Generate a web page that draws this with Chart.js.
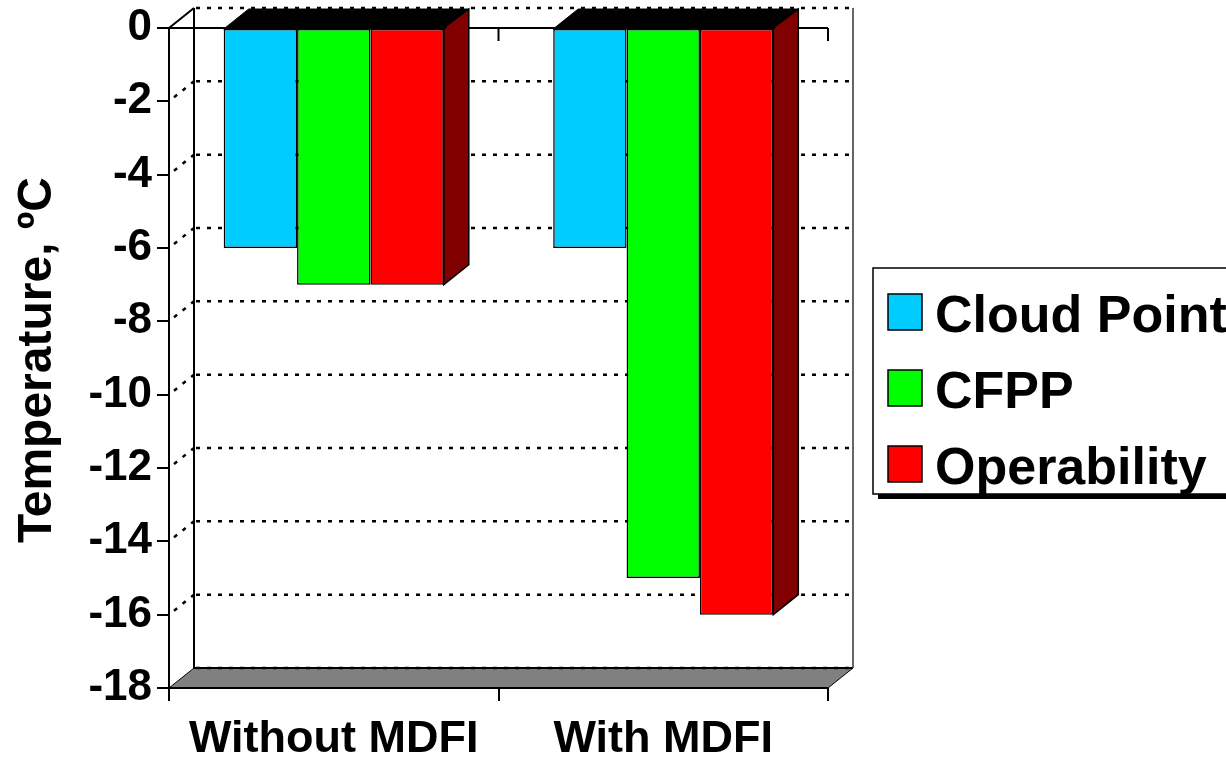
<!DOCTYPE html>
<html>
<head>
<meta charset="utf-8">
<script src="https://cdn.jsdelivr.net/npm/chart.js@4/dist/chart.umd.min.js"></script>
<style>
  html, body { margin: 0; padding: 0; background: #fff; overflow: hidden; }
  #wrap { width: 1226px; height: 763px; position: relative; }
  canvas { display: block; }
</style>
</head>
<body>
<div id="wrap"><canvas id="chart" width="1226" height="763"></canvas></div>
<script>
// ---- data ----
const categories = ['Without MDFI', 'With MDFI'];
const seriesNames = ['Cloud Point', 'CFPP', 'Operability'];
const cloudPoint = [-6, -6];
const cfpp = [-7, -15];
const operability = [-7, -16];
const yTickLabels = ['0', '-2', '-4', '-6', '-8', '-10', '-12', '-14', '-16', '-18'];
const yMax = 0, yMin = -18, yStep = 2;
const yTitle = 'Temperature, \u00BAC';

// ---- style ----
const FONT = "'Liberation Sans', Arial, Helvetica, sans-serif";
const FRONT_COLORS = ['#00CCFF', '#00FF00', '#FF0000'];
const SIDE_COLOR = '#800000';
const TOP_COLOR = '#000000';
const FLOOR_COLOR = '#808080';
const DX = 25, DY = -20;           // depth offset of the back wall

// back wall, side wall, floor and the zero-level axis behind the bars
const depthBackdrop = {
  id: 'depthBackdrop',
  beforeDatasetsDraw(chart) {
    const { ctx, chartArea: a, scales: { x, y } } = chart;
    const L = a.left, R = a.right, T = a.top, B = a.bottom;
    ctx.save();

    // floor
    ctx.beginPath();
    ctx.moveTo(L, B); ctx.lineTo(R, B); ctx.lineTo(R + DX, B + DY); ctx.lineTo(L + DX, B + DY);
    ctx.closePath();
    ctx.fillStyle = FLOOR_COLOR; ctx.fill();
    ctx.lineWidth = 1; ctx.strokeStyle = '#000'; ctx.stroke();

    // dotted gridlines on the back wall and the left wall
    ctx.setLineDash([4, 7]);
    ctx.lineWidth = 2.5;
    ctx.strokeStyle = '#000';
    y.ticks.forEach(t => {
      const py = y.getPixelForValue(t.value);
      ctx.beginPath();
      ctx.moveTo(L + DX + 2, py + DY); ctx.lineTo(R + DX, py + DY);
      ctx.stroke();
      if (t.value !== yMax && t.value !== yMin) {
        ctx.beginPath();
        ctx.moveTo(L + 5, py - 4); ctx.lineTo(L + DX, py + DY);
        ctx.stroke();
      }
    });
    ctx.setLineDash([]);

    // wall edges
    ctx.lineWidth = 2; ctx.strokeStyle = '#000';
    ctx.beginPath();
    ctx.moveTo(L + DX, T + DY); ctx.lineTo(L + DX, B + DY); ctx.lineTo(R + DX, B + DY);
    ctx.stroke();
    ctx.beginPath();
    ctx.moveTo(L, T); ctx.lineTo(L + DX, T + DY);
    ctx.stroke();
    ctx.lineWidth = 1.5; ctx.strokeStyle = '#333';
    ctx.beginPath();
    ctx.moveTo(R + DX, T + DY); ctx.lineTo(R + DX, B + DY);
    ctx.stroke();

    // front axis lines
    ctx.lineWidth = 2; ctx.strokeStyle = '#000';
    ctx.beginPath();
    ctx.moveTo(L, T); ctx.lineTo(L, B); ctx.lineTo(R, B);
    ctx.stroke();

    // category axis at the zero level, ticks pointing down
    const y0 = y.getPixelForValue(0);
    ctx.beginPath();
    ctx.moveTo(L, y0); ctx.lineTo(R, y0);
    for (let i = 1; i <= categories.length; i++) {
      const px = x.getPixelForValue(i - 0.5);
      ctx.moveTo(px, y0); ctx.lineTo(px, y0 + 13);
    }
    ctx.stroke();
    ctx.restore();
  },

  // top faces and right side faces of each bar group
  afterDatasetsDraw(chart) {
    const { ctx } = chart;
    const metas = chart.data.datasets.map((d, i) => chart.getDatasetMeta(i));
    ctx.save();
    ctx.lineJoin = 'miter';
    for (let j = 0; j < categories.length; j++) {
      const first = metas[0].data[j];
      const last = metas[metas.length - 1].data[j];
      const left = first.x - first.width / 2;
      const right = last.x + last.width / 2;
      const base = last.base;

      ctx.beginPath();
      ctx.moveTo(right, base); ctx.lineTo(right + DX, base + DY);
      ctx.lineTo(right + DX, last.y + DY); ctx.lineTo(right, last.y);
      ctx.closePath();
      ctx.fillStyle = SIDE_COLOR; ctx.fill();
      ctx.lineWidth = 1.5; ctx.strokeStyle = '#000'; ctx.stroke();

      ctx.beginPath();
      ctx.moveTo(left, base); ctx.lineTo(right, base);
      ctx.lineTo(right + DX, base + DY); ctx.lineTo(left + DX, base + DY);
      ctx.closePath();
      ctx.fillStyle = TOP_COLOR; ctx.fill();
      ctx.lineWidth = 1; ctx.strokeStyle = '#000'; ctx.stroke();

      // dark shading on the upper corner of the side face
      ctx.beginPath();
      ctx.moveTo(right + 1.5, base - 1.5); ctx.lineTo(right + DX - 1, base + DY + 2);
      ctx.lineTo(right + DX - 1, base - 1.5);
      ctx.closePath();
      ctx.fillStyle = SIDE_COLOR; ctx.fill();
    }
    ctx.restore();
  },

  // axis title and legend box
  afterDraw(chart) {
    const { ctx } = chart;
    ctx.save();
    ctx.fillStyle = '#000';
    ctx.font = `bold 48px ${FONT}`;
    ctx.translate(51, 360);
    ctx.rotate(-Math.PI / 2);
    ctx.textAlign = 'center';
    ctx.textBaseline = 'alphabetic';
    ctx.fillText(yTitle, 0, 0);
    ctx.restore();

    ctx.save();
    const bx = 873, by = 268, bw = 380, bh = 226;
    ctx.fillStyle = '#000';
    ctx.fillRect(bx + 5, by + 5, bw, bh);
    ctx.fillStyle = '#fff';
    ctx.fillRect(bx, by, bw, bh);
    ctx.lineWidth = 1.5; ctx.strokeStyle = '#000';
    ctx.strokeRect(bx, by, bw, bh);

    ctx.font = `bold 52px ${FONT}`;
    ctx.textAlign = 'left';
    ctx.textBaseline = 'alphabetic';
    chart.data.datasets.forEach((ds, i) => {
      const baseLine = 332 + i * 76;
      ctx.fillStyle = ds.backgroundColor;
      ctx.fillRect(888, baseLine - 38, 34, 36);
      ctx.lineWidth = 1.5; ctx.strokeStyle = '#000';
      ctx.strokeRect(888, baseLine - 38, 34, 36);
      ctx.fillStyle = '#000';
      ctx.fillText(ds.label, 935, baseLine);
    });
    ctx.restore();
  }
};

const seriesValues = [cloudPoint, cfpp, operability];

new Chart(document.getElementById('chart'), {
  type: 'bar',
  data: {
    labels: categories,
    datasets: seriesNames.map((name, i) => ({
      label: name,
      data: seriesValues[i],
      backgroundColor: FRONT_COLORS[i],
      borderColor: '#000',
      borderWidth: 1.5,
      borderSkipped: false,
      categoryPercentage: 0.668,
      barPercentage: 1.0
    }))
  },
  options: {
    responsive: false,
    animation: false,
    events: [],
    layout: { padding: { top: 28, right: 398, left: 0, bottom: 0 } },
    plugins: { legend: { display: false }, tooltip: { enabled: false } },
    scales: {
      x: {
        offset: true,
        grid: { offset: true, drawOnChartArea: false, drawTicks: true, tickLength: 13, color: '#000', lineWidth: 2 },
        border: { display: true, color: '#000', width: 2 },
        ticks: { color: '#000', font: { family: FONT, size: 45, weight: 'bold' }, padding: 12, maxRotation: 0, autoSkip: false },
        afterFit(scale) { scale.height = 75; scale.paddingLeft = 0; scale.paddingRight = 0; }
      },
      y: {
        min: yMin,
        max: yMax,
        grid: { drawOnChartArea: false, drawTicks: true, tickLength: 12, color: '#000', lineWidth: 2 },
        border: { display: true, color: '#000', width: 2 },
        ticks: {
          stepSize: yStep,
          color: '#000',
          padding: 5,
          font: { family: FONT, size: 44, weight: 'bold' },
          callback: (v) => yTickLabels[Math.round((yMax - v) / yStep)]
        },
        afterFit(scale) { scale.width = 169; scale.paddingTop = 0; scale.paddingBottom = 0; }
      }
    }
  },
  plugins: [depthBackdrop]
});
</script>
</body>
</html>
